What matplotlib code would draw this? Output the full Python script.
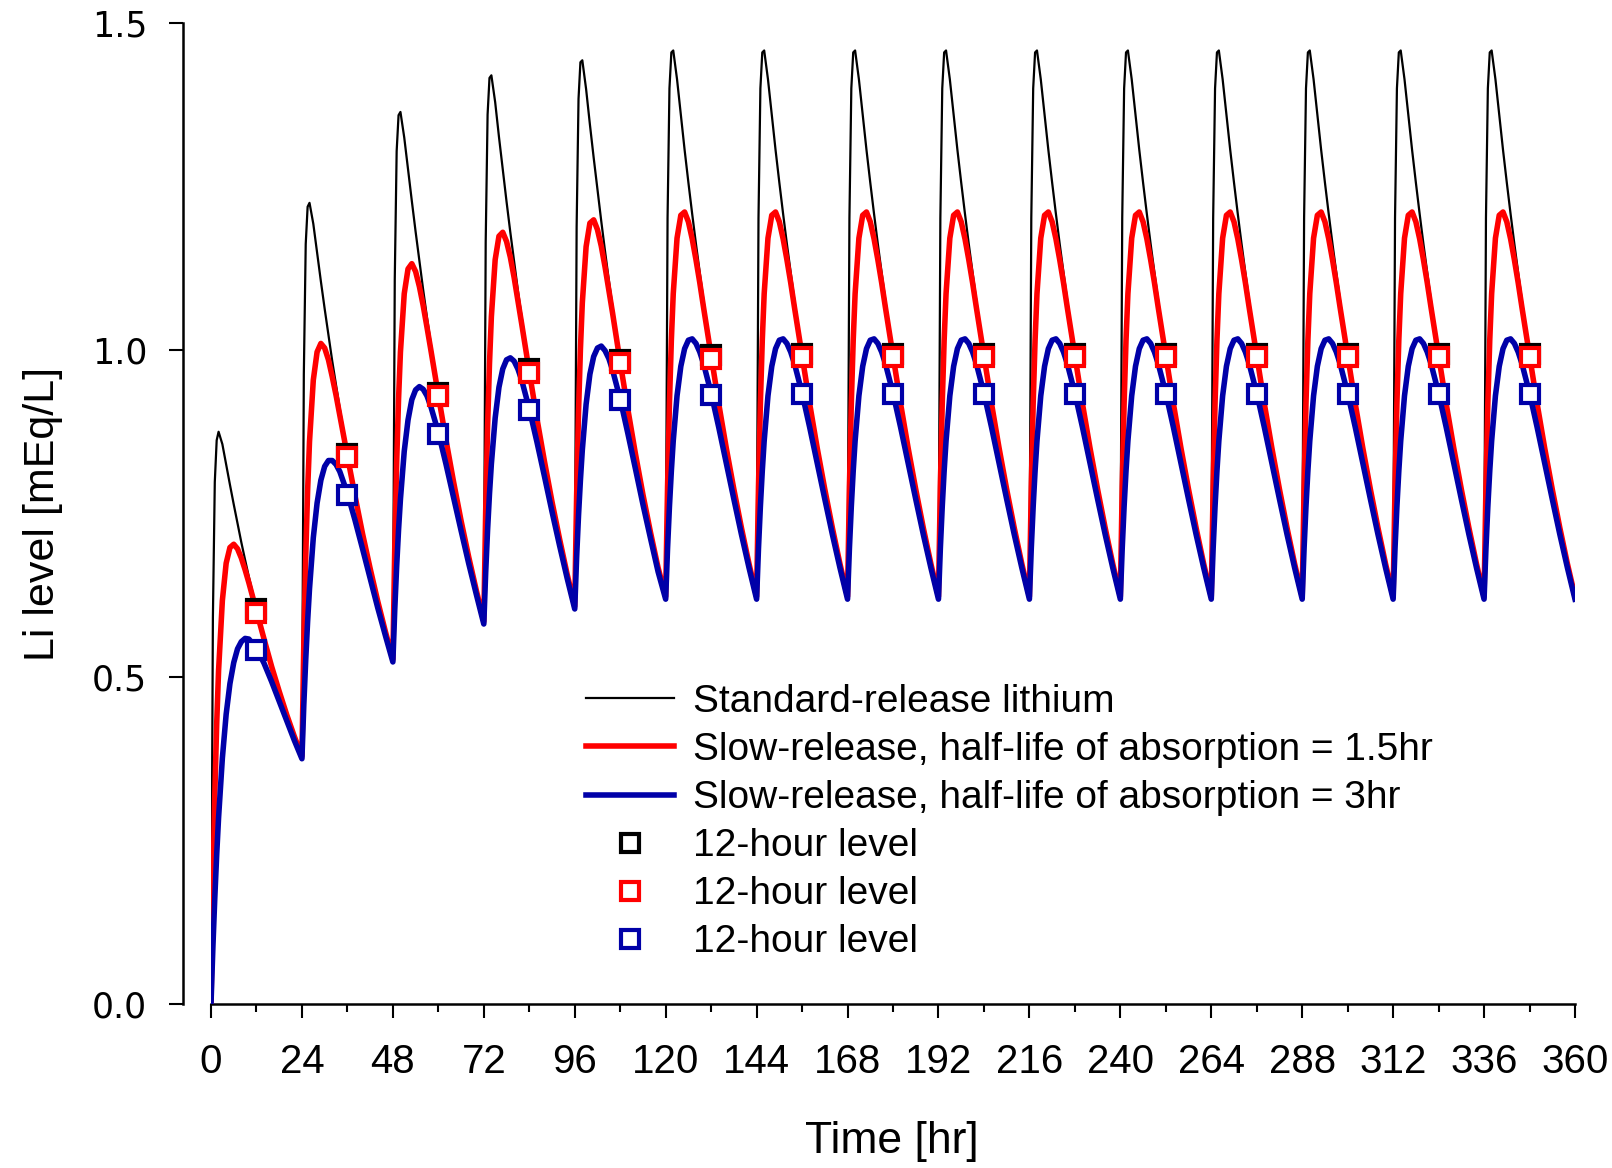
import matplotlib
matplotlib.use("Agg")
import matplotlib.pyplot as plt
from matplotlib.ticker import MultipleLocator
from matplotlib.lines import Line2D

plt.rcParams['font.family'] = ['Liberation Sans', 'DejaVu Sans']

tau = [0, 0.5, 1, 1.5, 2, 3, 4, 5, 6, 7, 8, 9, 10, 12, 14, 16, 18, 20, 22]
n_doses = 15

# standard release (black), doses 1-5, then steady state
black_cycles = [
    [0, 0.591, 0.798, 0.862, 0.875, 0.856, 0.825, 0.794, 0.764, 0.735, 0.706, 0.679, 0.653, 0.604, 0.559, 0.517, 0.478, 0.442, 0.409],
    [0.379, 0.963, 1.162, 1.219, 1.225, 1.193, 1.149, 1.105, 1.063, 1.023, 0.983, 0.946, 0.910, 0.841, 0.778, 0.720, 0.666, 0.616, 0.570],
    [0.527, 1.108, 1.304, 1.359, 1.364, 1.325, 1.276, 1.228, 1.181, 1.136, 1.092, 1.050, 1.010, 0.934, 0.864, 0.799, 0.739, 0.684, 0.633],
    [0.585, 1.165, 1.360, 1.416, 1.420, 1.379, 1.326, 1.276, 1.227, 1.180, 1.135, 1.091, 1.050, 0.971, 0.898, 0.831, 0.768, 0.711, 0.657],
    [0.608, 1.188, 1.384, 1.440, 1.443, 1.399, 1.345, 1.294, 1.245, 1.197, 1.151, 1.107, 1.065, 0.985, 0.911, 0.843, 0.780, 0.721, 0.667],
]
black_steady = [0.623, 1.202, 1.400, 1.455, 1.458, 1.414, 1.360, 1.306, 1.256, 1.208, 1.162, 1.118, 1.075, 0.994, 0.920, 0.851, 0.787, 0.728, 0.673]

# slow release, absorption half-life 1.5 hr (red)
red_cycles = [
    [0, 0.180, 0.320, 0.428, 0.510, 0.617, 0.674, 0.698, 0.703, 0.696, 0.682, 0.664, 0.644, 0.601, 0.558, 0.516, 0.478, 0.442, 0.409],
    [0.379, 0.552, 0.684, 0.785, 0.860, 0.954, 0.997, 1.010, 1.003, 0.985, 0.959, 0.931, 0.900, 0.838, 0.777, 0.719, 0.666, 0.616, 0.570],
    [0.527, 0.697, 0.827, 0.925, 0.997, 1.086, 1.124, 1.132, 1.120, 1.097, 1.068, 1.035, 1.001, 0.931, 0.863, 0.799, 0.739, 0.684, 0.633],
    [0.585, 0.754, 0.883, 0.979, 1.051, 1.138, 1.174, 1.180, 1.166, 1.142, 1.111, 1.076, 1.040, 0.967, 0.896, 0.830, 0.768, 0.711, 0.657],
    [0.608, 0.777, 0.905, 1.001, 1.072, 1.158, 1.194, 1.199, 1.184, 1.159, 1.127, 1.092, 1.056, 0.981, 0.910, 0.842, 0.779, 0.721, 0.667],
]
red_steady = [0.623, 0.791, 0.919, 1.015, 1.086, 1.171, 1.206, 1.211, 1.196, 1.170, 1.138, 1.103, 1.065, 0.991, 0.918, 0.850, 0.787, 0.728, 0.673]

# slow release, absorption half-life 3 hr (blue)
blue_cycles = [
    [0, 0.087, 0.162, 0.228, 0.285, 0.376, 0.443, 0.490, 0.522, 0.543, 0.554, 0.559, 0.558, 0.544, 0.521, 0.493, 0.463, 0.433, 0.403],
    [0.375, 0.458, 0.526, 0.585, 0.635, 0.713, 0.766, 0.801, 0.822, 0.831, 0.831, 0.825, 0.814, 0.781, 0.740, 0.696, 0.651, 0.606, 0.564],
    [0.523, 0.603, 0.669, 0.725, 0.772, 0.845, 0.893, 0.924, 0.939, 0.944, 0.940, 0.930, 0.914, 0.874, 0.826, 0.775, 0.724, 0.674, 0.627],
    [0.581, 0.660, 0.725, 0.780, 0.826, 0.896, 0.943, 0.971, 0.985, 0.988, 0.983, 0.971, 0.954, 0.910, 0.860, 0.807, 0.753, 0.701, 0.651],
    [0.604, 0.683, 0.747, 0.801, 0.847, 0.917, 0.963, 0.990, 1.003, 1.006, 0.999, 0.987, 0.969, 0.925, 0.873, 0.819, 0.764, 0.712, 0.661],
]
blue_steady = [0.619, 0.697, 0.761, 0.815, 0.861, 0.930, 0.975, 1.002, 1.015, 1.017, 1.010, 0.997, 0.979, 0.934, 0.882, 0.827, 0.772, 0.718, 0.667]

end_level = {"black": 0.623, "red": 0.623, "blue": 0.619}

# 12-hour levels
hours_12 = [12, 36, 60, 84, 108, 132, 156, 180, 204, 228, 252, 276, 300, 324, 348]
black_12 = [0.604, 0.841, 0.934, 0.971, 0.985, 0.992, 0.994, 0.994, 0.994, 0.994, 0.994, 0.994, 0.994, 0.994, 0.994]
red_12 = [0.598, 0.836, 0.929, 0.965, 0.980, 0.987, 0.989, 0.989, 0.989, 0.989, 0.989, 0.989, 0.989, 0.989, 0.989]
blue_12 = [0.541, 0.778, 0.872, 0.909, 0.924, 0.931, 0.933, 0.933, 0.933, 0.933, 0.933, 0.933, 0.933, 0.933, 0.933]

labels = ["Standard-release lithium",
          "Slow-release, half-life of absorption = 1.5hr",
          "Slow-release, half-life of absorption = 3hr",
          "12-hour level"]


def series(cycles, steady, end):
    t, y = [], []
    for k in range(n_doses):
        prof = cycles[k] if k < len(cycles) else steady
        t += [24 * k + s for s in tau]
        y += prof
    t.append(24 * n_doses)
    y.append(end)
    return t, y


RED = "#ff0000"
BLUE = "#0000a8"

fig = plt.figure(figsize=(16.12, 11.68), dpi=100)
ax = fig.add_axes([211 / 1612, 164 / 1168, 1364 / 1612, 981 / 1168])

tb, yb = series(black_cycles, black_steady, end_level["black"])
tr, yr = series(red_cycles, red_steady, end_level["red"])
tu, yu = series(blue_cycles, blue_steady, end_level["blue"])

ax.plot(tb, yb, color="black", lw=1.6, zorder=2)
ax.plot(tr, yr, color=RED, lw=4, zorder=3, solid_joinstyle="round")
ax.plot(tu, yu, color=BLUE, lw=4, zorder=4, solid_joinstyle="round")

mk = dict(marker="s", ls="none", ms=13.5, mew=3, mfc="white")
ax.plot(hours_12, black_12, mec="black", zorder=5, **mk)
ax.plot(hours_12, red_12, mec=RED, zorder=6, **mk)
ax.plot(hours_12, blue_12, mec=BLUE, zorder=7, **mk)

ax.set_xlim(0, 360)
ax.set_ylim(0, 1.5)
ax.xaxis.set_major_locator(MultipleLocator(24))
ax.xaxis.set_minor_locator(MultipleLocator(12))
ax.yaxis.set_major_locator(MultipleLocator(0.5))
ax.yaxis.set_major_formatter(matplotlib.ticker.FormatStrFormatter("%.1f"))

for s in ["top", "right"]:
    ax.spines[s].set_visible(False)
ax.spines["left"].set_position(("outward", 20))
ax.spines["left"].set_linewidth(1.8)
ax.spines["bottom"].set_linewidth(1.8)

ax.tick_params(axis="x", which="major", direction="out", length=10, width=1.5,
               pad=18, labelsize=29)
ax.tick_params(axis="x", which="minor", direction="out", length=6, width=1.5)
ax.tick_params(axis="y", which="major", direction="out", length=10, width=1.5,
               pad=16)
for lab in ax.get_yticklabels():
    lab.set_fontfamily("DejaVu Sans")
    lab.set_fontsize(25)

fig.text(43 / 1612, 1 - 514 / 1168, "Li level [mEq/L]", rotation=90,
         ha="center", va="center", fontsize=31)
fig.text(892 / 1612, 1 - 1142 / 1168, "Time [hr]", ha="center", va="center",
         fontsize=32)

handles = [
    Line2D([], [], color="black", lw=1.6),
    Line2D([], [], color=RED, lw=4),
    Line2D([], [], color=BLUE, lw=4),
    Line2D([], [], mec="black", **mk),
    Line2D([], [], mec=RED, **mk),
    Line2D([], [], mec=BLUE, **mk),
]
ax.legend(handles, labels[:3] + [labels[3]] * 3, loc="upper left",
          bbox_to_anchor=(586 / 1612, 1 - 684 / 1168), bbox_transform=fig.transFigure,
          frameon=False, fontsize=28, handlelength=2.27, handletextpad=0.48,
          labelspacing=0.31, borderpad=0, borderaxespad=0, markerscale=1.0)

fig.savefig("out.png", dpi=100)
